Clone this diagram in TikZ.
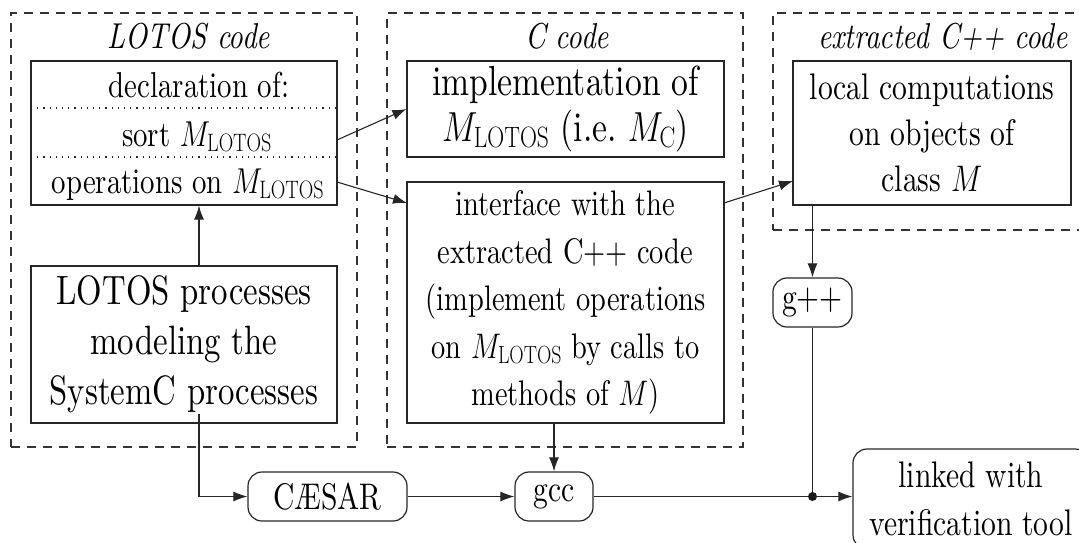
\RequirePackage{fix-cm}
\documentclass[tikz,border=0pt]{standalone}
\usepackage[no-math]{fontspec}
\setmainfont{lmroman10}[Extension=.otf, UprightFont=*-regular, ItalicFont=*-italic,
  BoldFont=*-bold, BoldItalicFont=*-bolditalic, FakeStretch=0.80]
\usepackage{graphicx}
\usetikzlibrary{arrows.meta,calc}

% narrow glyphs: math is squeezed by the same factor as the text font
\newcommand{\sx}{0.80}
\newcommand{\narrow}[1]{\scalebox{\sx}[1]{#1}}
\newcommand{\Mlotos}{\narrow{$M_{\mathrm{LOTOS}}$}}
\newcommand{\Mcee}{\narrow{$M_{\mathrm{C}}$}}
\newcommand{\Mcls}{\narrow{$M$}}
\newcommand{\fs}[2]{\fontsize{#1}{#2}\selectfont}

\tikzset{
  box/.style={draw=black!85, line width=1.2pt, inner sep=0pt, align=center},
  rbox/.style={box, rounded corners=14pt},
  frame/.style={draw=black!80, line width=1.1pt, dash pattern=on 9pt off 7pt, inner sep=0pt},
  rowsep/.style={draw=black!85, line width=1.1pt, dash pattern=on 1.2pt off 5pt},
  arr/.style={draw=black!85, line width=1.1pt, -{Latex[length=14pt,width=10pt]}},
  conn/.style={draw=black!85, line width=1.1pt},
  title/.style={inner sep=0pt, anchor=base, font=\fs{36}{40}\itshape},
}

\begin{document}
\begin{tikzpicture}[x=1pt,y=-1pt]
\useasboundingbox (0,0) rectangle (1079,542);
\clip (0,0) rectangle (1079,542);

% dashed groups
\node[frame, minimum width=346pt, minimum height=434pt] (grpL) at (184,230) {};
\node[frame, minimum width=356pt, minimum height=434pt] (grpC) at (565,230) {};
\node[frame, minimum width=322pt, minimum height=217pt] (grpX) at (934,121.5) {};

\node[title] (tL) at (189,48) {LOTOS code};
\node[title] (tC) at (567,48) {C code};
\node[title] (tX) at (943,48) {extracted C++ code};

% LOTOS side
\node[box, minimum width=306pt, minimum height=144pt] (decl) at (184,133) {};
\draw[rowsep] (31,108) -- (337,108);
\draw[rowsep] (31,157) -- (337,157);
\node[inner sep=0pt, anchor=base, font=\fs{36}{44}] (r1) at (199,97) {declaration of:};
\node[inner sep=0pt, anchor=base, font=\fs{36}{44}] (r2) at (197,146) {sort \Mlotos};
\node[inner sep=0pt, anchor=base, font=\fs{36}{44}] (r3) at (188,193) {operations on \Mlotos};

\node[box, minimum width=306pt, minimum height=157pt, font=\fs{41}{50}] (procs) at (184,344.5)
  {LOTOS processes\\modeling the\\SystemC processes};

% C side
\node[box, minimum width=317pt, minimum height=96pt, font=\fs{42}{46}] (impl) at (565.5,109)
  {implementation of\\\Mlotos{} (i.e.\ \Mcee)};
\node[box, minimum width=317pt, minimum height=241pt, font=\fs{35.5}{47.5}] (iface) at (565.5,302.5)
  {interface with the\\extracted C++ code\\(implement operations\\on \Mlotos{} by calls to\\methods of \Mcls)};

% C++ side
\node[box, minimum width=278pt, minimum height=144pt, font=\fs{37}{46}] (local) at (932,133)
  {local computations\\on objects of\\class \Mcls};

% tools
\node[rbox, minimum width=79pt, minimum height=49pt, font=\fs{37}{40}] (gpp) at (812.5,302.5) {g++};
\node[rbox, minimum width=159pt, minimum height=49pt, font=\fs{37}{40}] (caesar) at (327.5,496.5) {CÆSAR};
\node[rbox, minimum width=78pt, minimum height=49pt, font=\fs{37}{40}] (gcc) at (554,496.5) {gcc};
\node[rbox, minimum width=236pt, minimum height=100pt, font=\fs{37}{48}] (linked) at (971,499)
  {linked with\\verification tool};

% connectors
\coordinate (sortout) at (337,140);
\coordinate (opsout) at (337,182);
\coordinate (ifin) at (407,203);
\coordinate (ifout) at (724,203);
\coordinate (locin) at (793,181);
\draw[arr] (sortout) -- (impl.west);
\draw[arr] (opsout) -- (ifin);
\draw[arr] (ifout) -- (locin);
\draw[arr] ($(procs.north)+(15,0)$) -- ($(decl.south)+(15,0)$);
\draw[arr] ($(procs.south)+(15,-10)$) |- (caesar.west);
\draw[arr] (caesar.east) -- (gcc.west);
\draw[arr] (gcc.north |- iface.south) -- (gcc.north);
\draw[arr] (gpp.north |- local.south) -- (gpp.north);
\coordinate (join) at (gpp.south |- gcc.east);
\draw[conn] (gcc.east) -- (join);
\draw[conn] (gpp.south) -- (join);
\fill[black!90] (join) circle (4.5pt);
\draw[arr] (join) -- (join -| linked.west);
\end{tikzpicture}
\end{document}
